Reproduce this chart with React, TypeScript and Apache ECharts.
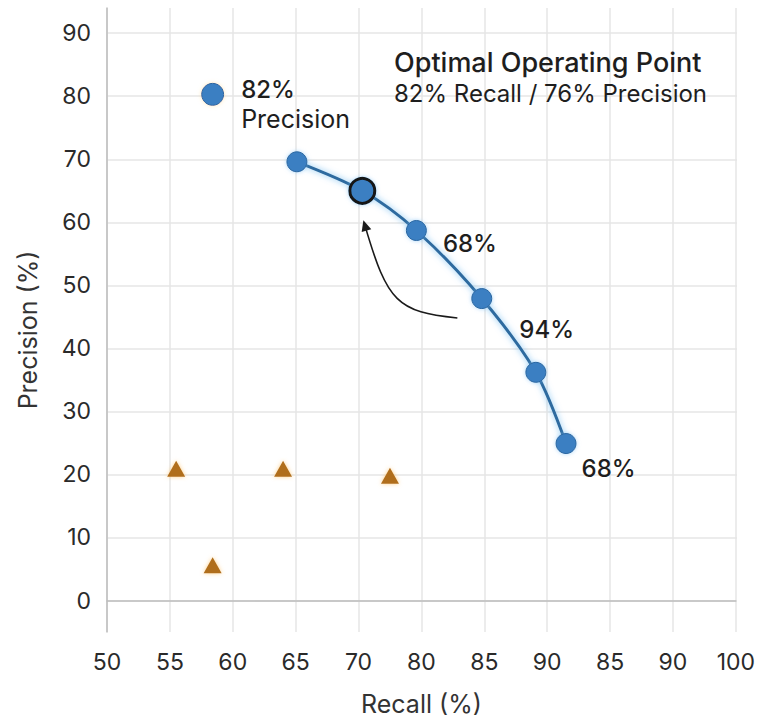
import React, { useEffect, useRef } from "react";
import * as echarts from "echarts";

// ---- data (x in axis-position units: 50..100 step 5, labels below) ----
const xTickLabels = ["50", "55", "60", "65", "70", "80", "85", "90", "85", "90", "100"];
const curveRecall = [65.1, 70.3, 74.6, 79.8, 84.1, 86.5];
const curvePrecision = [69.6, 65.0, 58.7, 47.9, 36.2, 24.9];
const curveLabels = ["", "", "68%", "94%", "", "68%"];
const optimalIndex = 1;
const isolatedRecall = [58.4];
const isolatedPrecision = [80.3];
const isolatedLabelTop = "82%";
const isolatedLabelBottom = "Precision";
const baselineRecall = [55.5, 58.4, 64.0, 72.5];
const baselinePrecision = [20.9, 5.6, 20.9, 19.8];
// arrow annotation (data coords): start, control 1, control 2, end
const arrowStart = [77.86, 44.82];
const arrowCp1 = [73.1, 45.77];
const arrowCp2 = [72.3, 47.28];
const arrowEnd = [70.52, 59.43];
const annotationTitle = "Optimal Operating Point";
const annotationSub = "82% Recall / 76% Precision";

const FONT = "Inter, 'Liberation Sans', Arial, sans-serif";
const labelOffsets: number[][] = [[0, 0], [0, 0], [16, 13], [27, 31], [0, 0], [5, 25]];

export default function App() {
  const ref = useRef<HTMLDivElement>(null);
  useEffect(() => {
    document.body.style.margin = "0";
    if (!ref.current) return;
    const chart = echarts.init(ref.current, null, { renderer: "svg" });
    const blue = "#3b7fc2";
    const blueBorder = "#2a66a0";
    const curveData = curveRecall.map((x, i) => {
      const item: any = {
        value: [x, curvePrecision[i]],
        label: { offset: labelOffsets[i] },
      };
      if (i === optimalIndex) {
        item.symbolSize = 25;
        item.itemStyle = { borderColor: "#141414", borderWidth: 3 };
      }
      return item;
    });
    chart.setOption({
      animation: false,
      backgroundColor: "#ffffff",
      textStyle: { fontFamily: FONT },
      grid: [
        { left: 107, right: 21, top: 8, bottom: 90 },
        { left: 107, right: 21, top: 33.2, bottom: 121.5 },
      ],
      xAxis: [
        {
          type: "value",
          gridIndex: 0,
          min: 50,
          max: 100,
          interval: 5,
          name: "Recall (%)",
          nameLocation: "middle",
          nameGap: 59,
          nameTextStyle: { fontSize: 25, color: "#333", fontFamily: FONT },
          axisLine: { show: true, lineStyle: { color: "#bdbdbd", width: 1.5 } },
          axisTick: { show: false },
          axisLabel: {
            fontSize: 23,
            color: "#2a2a2a",
            margin: 18,
            fontFamily: FONT,
            formatter: (v: number) => xTickLabels[Math.round((v - 50) / 5)] ?? "",
          },
          splitLine: { show: true, lineStyle: { color: "#e6e6e6", width: 1.5 } },
        },
        { type: "value", gridIndex: 1, min: 50, max: 100, show: false },
      ],
      yAxis: [
        {
          type: "value",
          gridIndex: 0,
          min: -5,
          max: 94,
          axisLine: { show: true, lineStyle: { color: "#bdbdbd", width: 1.5 } },
          axisTick: { show: false },
          axisLabel: { show: false },
          splitLine: { show: false },
        },
        {
          type: "value",
          gridIndex: 1,
          min: 0,
          max: 90,
          interval: 10,
          axisLine: { show: false },
          axisTick: { show: false },
          axisLabel: { fontSize: 23, color: "#2a2a2a", margin: 16, fontFamily: FONT },
          splitLine: { show: true, lineStyle: { color: "#e6e6e6", width: 1.5 } },
        },
      ],
      series: [
        {
          type: "line",
          name: "PR curve",
          xAxisIndex: 0,
          yAxisIndex: 0,
          data: curveData,
          smooth: 0.3,
          symbol: "circle",
          symbolSize: 20,
          z: 3,
          lineStyle: {
            color: "#2d6b9f",
            width: 3,
            shadowColor: "rgba(110,185,240,0.9)",
            shadowBlur: 6,
          },
          itemStyle: {
            color: blue,
            borderColor: blueBorder,
            borderWidth: 1,
            opacity: 1,
            shadowColor: "rgba(120,190,245,0.6)",
            shadowBlur: 4,
          },
          label: {
            show: true,
            position: "right",
            distance: 0,
            formatter: (p: any) => curveLabels[p.dataIndex],
            fontSize: 24,
            fontWeight: 500,
            color: "#1e1e1e",
            fontFamily: FONT,
          },
        },
        {
          type: "scatter",
          name: "Isolated",
          xAxisIndex: 0,
          yAxisIndex: 0,
          data: isolatedRecall.map((x, i) => [x, isolatedPrecision[i]]),
          symbol: "circle",
          symbolSize: 22,
          itemStyle: {
            color: blue,
            borderColor: blueBorder,
            borderWidth: 1,
            opacity: 1,
            shadowColor: "rgba(255,220,150,0.6)",
            shadowBlur: 4,
          },
          label: {
            show: true,
            position: "right",
            distance: 0,
            offset: [17, 10],
            formatter: `{a|${isolatedLabelTop}}\n{b|${isolatedLabelBottom}}`,
            rich: {
              a: { fontSize: 24, fontWeight: 500, lineHeight: 30, color: "#1e1e1e", fontFamily: FONT },
              b: { fontSize: 25, lineHeight: 30, color: "#1e1e1e", fontFamily: FONT },
            },
          },
        },
        {
          type: "scatter",
          name: "Baseline",
          xAxisIndex: 0,
          yAxisIndex: 0,
          data: baselineRecall.map((x, i) => [x, baselinePrecision[i]]),
          symbol: "triangle",
          symbolSize: [18, 16],
          itemStyle: {
            color: "#b06e1c",
            opacity: 1,
            shadowColor: "rgba(255,190,90,0.7)",
            shadowBlur: 4,
          },
        },
      ],
    });

    // annotation graphics positioned through the axes' own scales
    const px = (c: number[]) => chart.convertToPixel({ gridIndex: 0 }, c) as number[];
    const a = px(arrowStart);
    const c1 = px(arrowCp1);
    const c2 = px(arrowCp2);
    const b = px(arrowEnd);
    let dx = b[0] - c2[0];
    let dy = b[1] - c2[1];
    const len = Math.hypot(dx, dy) || 1;
    dx /= len;
    dy /= len;
    const headLen = 11;
    const headHalf = 5;
    const tip = [b[0] + dx * 6, b[1] + dy * 6];
    const base = [tip[0] - dx * headLen, tip[1] - dy * headLen];
    const nx = -dy;
    const ny = dx;
    chart.setOption({
      graphic: [
        {
          type: "text",
          x: 28,
          y: 330,
          rotation: Math.PI / 2,
          z: 100,
          style: {
            text: "Precision (%)",
            fontSize: 25,
            fontFamily: FONT,
            fill: "#333",
            align: "center",
            verticalAlign: "middle",
          },
        },
        {
          type: "text",
          x: 394,
          y: 62,
          z: 100,
          style: {
            text: annotationTitle,
            fontSize: 27,
            fontWeight: 500,
            fontFamily: FONT,
            fill: "#1e1e1e",
            align: "left",
            verticalAlign: "middle",
          },
        },
        {
          type: "text",
          x: 394,
          y: 93,
          z: 100,
          style: {
            text: annotationSub,
            fontSize: 24,
            fontFamily: FONT,
            fill: "#1e1e1e",
            align: "left",
            verticalAlign: "middle",
          },
        },
        {
          type: "bezierCurve",
          z: 100,
          shape: {
            x1: a[0], y1: a[1],
            cpx1: c1[0], cpy1: c1[1],
            cpx2: c2[0], cpy2: c2[1],
            x2: b[0], y2: b[1],
          },
          style: { stroke: "#1a1a1a", lineWidth: 1.6, fill: null },
        },
        {
          type: "polygon",
          z: 100,
          shape: {
            points: [
              tip,
              [base[0] + nx * headHalf, base[1] + ny * headHalf],
              [base[0] - nx * headHalf, base[1] - ny * headHalf],
            ],
          },
          style: { fill: "#1a1a1a" },
        },
      ],
    });
    return () => chart.dispose();
  }, []);
  return <div ref={ref} style={{ width: 758, height: 722 }} />;
}
